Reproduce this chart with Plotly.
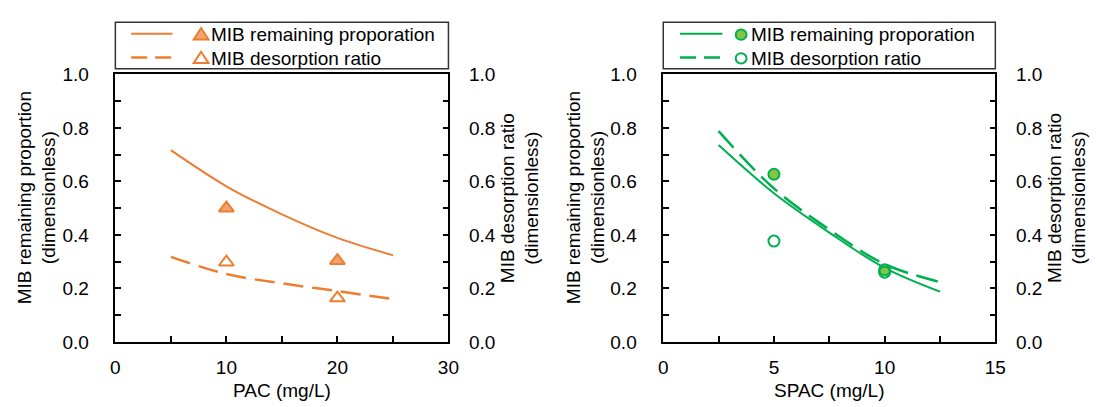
import plotly.graph_objects as go

# ---- data -------------------------------------------------------------
# PAC panel: fitted curves and measured points
pac_fit_x = [5, 10, 15, 20, 25]
pac_remaining_fit = [0.717, 0.582, 0.477, 0.389, 0.324]
pac_desorption_fit = [0.318, 0.254, 0.219, 0.190, 0.160]
pac_x = [10, 20]
pac_remaining = [0.500, 0.304]
pac_desorption = [0.298, 0.164]

# SPAC panel: fitted curves and measured points
spac_fit_x = [2.5, 5, 7.5, 10, 12.5]
spac_remaining_fit = [0.736, 0.556, 0.409, 0.277, 0.188]
spac_desorption_fit = [0.788, 0.574, 0.420, 0.291, 0.224]
spac_x = [5, 10]
spac_remaining = [0.627, 0.270]
spac_desorption = [0.377, 0.261]

legend_labels = ["MIB remaining proporation", "MIB desorption ratio"]
y_left_title = "MIB remaining proportion<br>(dimensionless)"
y_right_title = "MIB desorption ratio<br>(dimensionless)"
x_titles = ["PAC (mg/L)", "SPAC (mg/L)"]

# ---- styling ------------------------------------------------------------
W, H = 1097, 407
FONT = "Liberation Sans, Arial, sans-serif"
FS = 19
ORANGE = "#ED7D31"
ORANGE_FILL = "#F3A36B"
GREEN = "#00B050"
GREEN_FILL = "#86C443"


def px(x):
    return x / W


def py(y):
    return 1 - y / H


# panel extents in pixels: (left, right, top, bottom)
panels = [(112, 450, 68, 350), (668, 1005, 68, 350)]

fig = go.Figure()

# PAC curves
fig.add_trace(go.Scatter(x=pac_fit_x, y=pac_remaining_fit, mode="lines",
                         line=dict(color=ORANGE, width=2, shape="spline"),
                         xaxis="x", yaxis="y", showlegend=False))
fig.add_trace(go.Scatter(x=pac_fit_x, y=pac_desorption_fit, mode="lines",
                         line=dict(color=ORANGE, width=2.5, shape="spline", dash="20px,9px"),
                         xaxis="x", yaxis="y2", showlegend=False))
fig.add_trace(go.Scatter(x=pac_x, y=pac_remaining, mode="markers",
                         marker=dict(symbol="triangle-up", size=13, color=ORANGE_FILL,
                                     line=dict(color=ORANGE, width=2)),
                         xaxis="x", yaxis="y", showlegend=False))
fig.add_trace(go.Scatter(x=pac_x, y=pac_desorption, mode="markers",
                         marker=dict(symbol="triangle-up-open", size=13, color=ORANGE,
                                     line=dict(color=ORANGE, width=2)),
                         xaxis="x", yaxis="y2", showlegend=False))

# SPAC curves
fig.add_trace(go.Scatter(x=spac_fit_x, y=spac_remaining_fit, mode="lines",
                         line=dict(color=GREEN, width=2, shape="spline"),
                         xaxis="x2", yaxis="y3", showlegend=False))
fig.add_trace(go.Scatter(x=spac_fit_x, y=spac_desorption_fit, mode="lines",
                         line=dict(color=GREEN, width=2.5, shape="spline", dash="22px,9px"),
                         xaxis="x2", yaxis="y4", showlegend=False))
fig.add_trace(go.Scatter(x=spac_x, y=spac_remaining, mode="markers",
                         marker=dict(symbol="circle", size=11, color=GREEN_FILL,
                                     line=dict(color=GREEN, width=2)),
                         xaxis="x2", yaxis="y3", showlegend=False))
fig.add_trace(go.Scatter(x=spac_x, y=spac_desorption, mode="markers",
                         marker=dict(symbol="circle-open", size=11, color=GREEN,
                                     line=dict(color=GREEN, width=2)),
                         xaxis="x2", yaxis="y4", showlegend=False))

tickfont = dict(family=FONT, size=FS, color="#000")


def xaxis(dom, rng, dtick):
    return dict(domain=dom, range=rng, dtick=dtick, tick0=0, showgrid=False, zeroline=False,
                showline=True, linecolor="#000", linewidth=1.5, mirror=True,
                ticks="inside", ticklen=6, tickwidth=1.5, tickcolor="#000",
                minor=dict(ticks="inside", dtick=dtick / 2, ticklen=6, tickwidth=1.5,
                           tickcolor="#000", showgrid=False),
                tickfont=tickfont, ticklabelstandoff=8, fixedrange=True)


def yaxis(dom, side, anchor, overlaying=None, standoff=18):
    d = dict(domain=dom, range=[0, 1], dtick=0.2, tick0=0, tickformat=".1f", side=side,
             anchor=anchor, showgrid=False, zeroline=False, showline=True,
             linecolor="#000", linewidth=1.5, ticks="inside", ticklen=6, tickwidth=1.5,
             tickcolor="#000",
             minor=dict(ticks="inside", dtick=0.1, ticklen=6, tickwidth=1.5,
                        tickcolor="#000", showgrid=False),
             tickfont=tickfont, ticklabelstandoff=standoff, fixedrange=True)
    if overlaying:
        d["overlaying"] = overlaying
    return d


(l1, r1, t1, b1), (l2, r2, t2, b2) = panels
fig.update_layout(
    width=W, height=H,
    margin=dict(l=0, r=0, t=0, b=0),
    paper_bgcolor="white", plot_bgcolor="white",
    font=dict(family=FONT, size=FS, color="#000"),
    xaxis=xaxis([px(l1), px(r1)], [0, 30], 10) | dict(anchor="y"),
    yaxis=yaxis([py(b1), py(t1)], "left", "x", standoff=21),
    yaxis2=yaxis([py(b1), py(t1)], "right", "x", overlaying="y", standoff=15),
    xaxis2=xaxis([px(l2), px(r2)], [0, 15], 5) | dict(anchor="y3"),
    yaxis3=yaxis([py(b2), py(t2)], "left", "x2", standoff=21),
    yaxis4=yaxis([py(b2), py(t2)], "right", "x2", overlaying="y3", standoff=15),
    showlegend=False,
)

annotations = []
shapes = []

# axis titles
for (l, r, t, b), xt in zip(panels, x_titles):
    annotations.append(dict(text=xt, x=px((l + r) / 2), y=py(401), xref="paper", yref="paper",
                            xanchor="center", yanchor="middle", showarrow=False,
                            font=dict(family=FONT, size=FS, color="#000")))
for xc, txt in [(32, y_left_title), (522, y_right_title),
                (589, y_left_title), (1077, y_right_title)]:
    annotations.append(dict(text=txt, x=px(xc), y=py(198), xref="paper", yref="paper",
                            xanchor="center", yanchor="middle", textangle=-90,
                            showarrow=False,
                            font=dict(family=FONT, size=FS, color="#000")))

# legend boxes drawn above each panel
legend_specs = [
    dict(panel=panels[0], color=ORANGE, fill=ORANGE_FILL, marker="triangle",
         line_x=(128, 170), mark_x=199, text_x=207),
    dict(panel=panels[1], color=GREEN, fill=GREEN_FILL, marker="circle",
         line_x=(685, 728), mark_x=747, text_x=755),
]
rows = [26, 51]
for spec in legend_specs:
    l, r, _, _ = spec["panel"]
    shapes.append(dict(type="rect", xref="paper", yref="paper",
                       x0=px(l), x1=px(r), y0=py(62), y1=py(13),
                       line=dict(color="#333", width=1.5), fillcolor="white"))
    for i, (yrow, label) in enumerate(zip(rows, legend_labels)):
        x0, x1 = spec["line_x"]
        shapes.append(dict(type="line", xref="paper", yref="paper",
                           x0=px(x0), x1=px(x1), y0=py(yrow - 1), y1=py(yrow - 1),
                           line=dict(color=spec["color"], width=2.5 if i else 2,
                                     dash="solid" if i == 0 else "16px,8px")))
        mx = spec["mark_x"]
        fill = spec["fill"] if i == 0 else "white"
        if spec["marker"] == "triangle":
            path = "M {} {} L {} {} L {} {} Z".format(
                px(mx - 7.5), py(yrow + 5), px(mx + 7.5), py(yrow + 5), px(mx), py(yrow - 7))
            shapes.append(dict(type="path", xref="paper", yref="paper", path=path,
                               line=dict(color=spec["color"], width=2), fillcolor=fill))
        else:
            shapes.append(dict(type="circle", xref="paper", yref="paper",
                               x0=px(mx - 5.5), x1=px(mx + 5.5),
                               y0=py(yrow + 5.5), y1=py(yrow - 5.5),
                               line=dict(color=spec["color"], width=2), fillcolor=fill))
        annotations.append(dict(text=label, x=px(spec["text_x"]), y=py(yrow), xref="paper",
                                yref="paper", xanchor="left", yanchor="middle",
                                showarrow=False,
                                font=dict(family=FONT, size=FS, color="#000")))

fig.update_layout(annotations=annotations, shapes=shapes)
fig.write_html("out.html")
